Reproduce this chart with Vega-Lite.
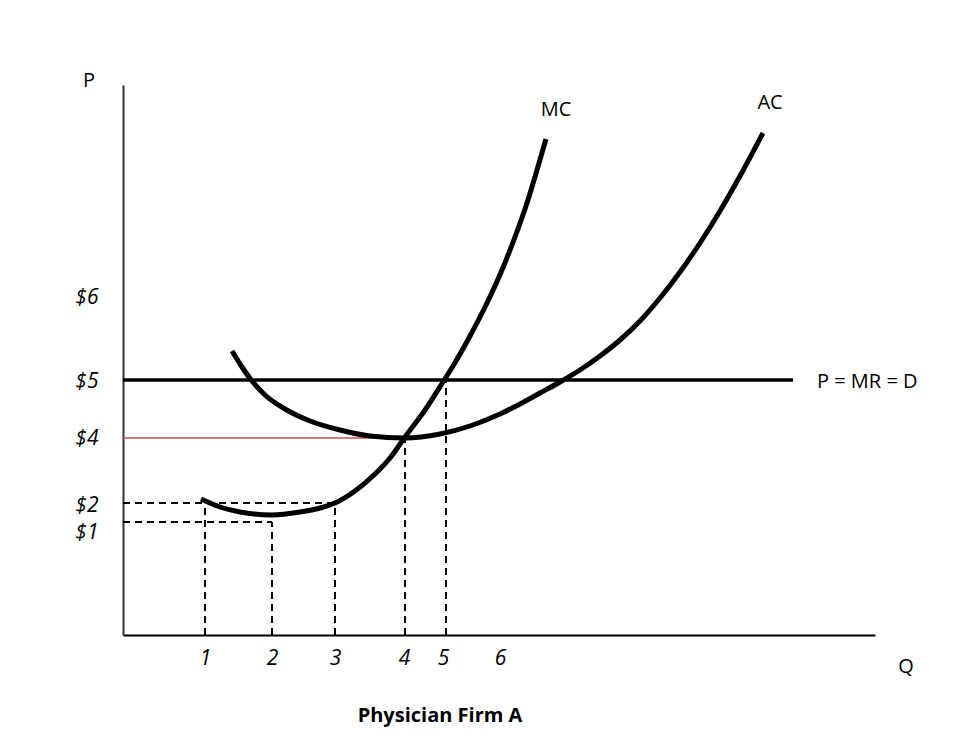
{
  "$schema": "https://vega.github.io/schema/vega-lite/v6.json",
  "width": 752,
  "height": 550,
  "autosize": "none",
  "padding": {"left": 123, "top": 85, "right": 100, "bottom": 116},
  "background": "white",
  "config": {"view": {"stroke": null}},
  "datasets": {
    "mc": [
      {"x": 78, "y": 136}, {"x": 97, "y": 128}, {"x": 117, "y": 123}, {"x": 149, "y": 120},
      {"x": 177, "y": 123}, {"x": 197, "y": 127}, {"x": 212, "y": 132}, {"x": 232, "y": 144},
      {"x": 252, "y": 161}, {"x": 267, "y": 177}, {"x": 282, "y": 198}, {"x": 302, "y": 225},
      {"x": 320, "y": 253}, {"x": 330, "y": 269}, {"x": 347, "y": 299}, {"x": 364, "y": 332},
      {"x": 379, "y": 365}, {"x": 392, "y": 398}, {"x": 404, "y": 432}, {"x": 414, "y": 465},
      {"x": 423, "y": 496}
    ],
    "ac": [
      {"x": 109, "y": 284}, {"x": 119, "y": 268}, {"x": 129, "y": 254}, {"x": 142, "y": 240},
      {"x": 162, "y": 226}, {"x": 187, "y": 214}, {"x": 217, "y": 205}, {"x": 247, "y": 199},
      {"x": 282, "y": 197}, {"x": 317, "y": 201}, {"x": 347, "y": 209}, {"x": 377, "y": 221},
      {"x": 397, "y": 231}, {"x": 417, "y": 242}, {"x": 437, "y": 253}, {"x": 457, "y": 265},
      {"x": 477, "y": 279}, {"x": 497, "y": 295}, {"x": 517, "y": 314}, {"x": 537, "y": 337},
      {"x": 557, "y": 363}, {"x": 577, "y": 392}, {"x": 597, "y": 424}, {"x": 617, "y": 459},
      {"x": 640, "y": 502}
    ],
    "dashes": [
      {"x": 0, "y": 132, "x2": 212, "y2": 132},
      {"x": 0, "y": 113, "x2": 149, "y2": 113},
      {"x": 82, "y": 0, "x2": 82, "y2": 132},
      {"x": 149, "y": 0, "x2": 149, "y2": 113},
      {"x": 212, "y": 0, "x2": 212, "y2": 132},
      {"x": 282, "y": 0, "x2": 282, "y2": 198},
      {"x": 323, "y": 0, "x2": 323, "y2": 255}
    ],
    "price": [{"x": 0, "y": 255, "x2": 670, "y2": 255}],
    "red": [{"x": 0, "y": 197, "x2": 282, "y2": 197}],
    "curveLabels": [
      {"x": 433, "y": 525, "label": "MC"},
      {"x": 647, "y": 532, "label": "AC"},
      {"x": -34, "y": 554, "label": "P"},
      {"x": 783, "y": -32, "label": "Q"}
    ],
    "lineLabel": [{"x": 694, "y": 253, "label": "P = MR = D"}],
    "title": [{"x": 317, "y": -81, "label": "Physician Firm A"}]
  },
  "encoding": {
    "x": {
      "field": "x", "type": "quantitative",
      "scale": {"domain": [0, 752], "nice": false, "zero": false},
      "axis": {
        "values": [82, 149, 212, 281, 320, 377],
        "labelExpr": "datum.value==82?'1':datum.value==149?'2':datum.value==212?'3':datum.value==281?'4':datum.value==320?'5':'6'",
        "ticks": false, "tickSize": 0, "grid": false, "title": null,
        "domainColor": "#000", "domainWidth": 2,
        "labelFont": "Open Sans", "labelFontStyle": "italic", "labelFontSize": 21,
        "labelColor": "#000", "labelPadding": 12
      }
    },
    "y": {
      "field": "y", "type": "quantitative",
      "scale": {"domain": [0, 550], "nice": false, "zero": false},
      "axis": {
        "values": [103, 130, 197, 254, 338],
        "labelExpr": "datum.value==103?'$1':datum.value==130?'$2':datum.value==197?'$4':datum.value==254?'$5':'$6'",
        "ticks": false, "tickSize": 0, "grid": false, "title": null,
        "domainColor": "#333", "domainWidth": 2,
        "labelFont": "Open Sans", "labelFontStyle": "italic", "labelFontSize": 21,
        "labelColor": "#000", "labelPadding": 25
      }
    }
  },
  "layer": [
    {
      "data": {"name": "dashes"},
      "mark": {"type": "rule", "color": "#000", "strokeWidth": 2, "strokeDash": [7, 5]},
      "encoding": {"x2": {"field": "x2"}, "y2": {"field": "y2"}}
    },
    {
      "data": {"name": "red"},
      "mark": {"type": "rule", "color": "#c9504b", "strokeWidth": 1.5},
      "encoding": {"x2": {"field": "x2"}, "y2": {"field": "y2"}}
    },
    {
      "data": {"name": "price"},
      "mark": {"type": "rule", "color": "#000", "strokeWidth": 3.5},
      "encoding": {"x2": {"field": "x2"}, "y2": {"field": "y2"}}
    },
    {
      "data": {"name": "mc"},
      "mark": {"type": "line", "color": "#000", "strokeWidth": 5, "interpolate": "monotone"},
      "encoding": {}
    },
    {
      "data": {"name": "ac"},
      "mark": {"type": "line", "color": "#000", "strokeWidth": 5, "interpolate": "monotone"},
      "encoding": {}
    },
    {
      "data": {"name": "curveLabels"},
      "mark": {"type": "text", "font": "Open Sans", "fontSize": 20, "color": "#000", "align": "center", "baseline": "middle"},
      "encoding": {"text": {"field": "label"}}
    },
    {
      "data": {"name": "lineLabel"},
      "mark": {"type": "text", "font": "Open Sans", "fontSize": 20, "color": "#000", "align": "left", "baseline": "middle"},
      "encoding": {"text": {"field": "label"}}
    },
    {
      "data": {"name": "title"},
      "mark": {"type": "text", "font": "Open Sans", "fontSize": 20, "fontWeight": "bold", "color": "#000", "align": "center", "baseline": "middle"},
      "encoding": {"text": {"field": "label"}}
    }
  ]
}
